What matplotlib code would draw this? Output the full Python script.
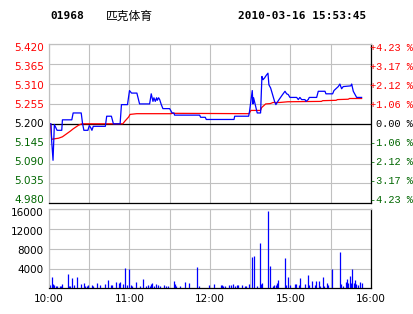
import matplotlib
matplotlib.use("Agg")
import numpy as np
import matplotlib.pyplot as plt
import matplotlib.transforms as mtrans

# header
code = "01968"
name = "匹克体育"
stamp = "2010-03-16 15:53:45"

prev_close = 5.200
price_ticks = [5.420, 5.365, 5.310, 5.255, 5.200, 5.145, 5.090, 5.035, 4.980]
pct_labels = ["+4.23 %", "+3.17 %", "+2.12 %", "+1.06 %", "0.00 %",
              "-1.06 %", "-2.12 %", "-3.17 %", "-4.23 %"]
vol_ticks = [16000, 12000, 8000, 4000]
time_pos = [0, 60, 120, 180, 240]
time_labels = ["10:00", "11:00", "12:00", "15:00", "16:00"]

# minute index (0 = 10:00, 240 = 16:00), price
blue_min = [0, 1.5, 2, 3, 4, 5, 6, 9.5, 10, 17, 18, 24, 25, 26, 29, 30, 31, 32, 33, 42,
            43, 46.5, 48, 53, 54, 58.5, 60, 61.5, 65.5, 67.5, 75, 76.2, 77.5, 78.2, 79.2,
            80.2, 80.7, 81.7, 82.5, 83.7, 84.9, 89.9, 90.7, 91.7, 93.1, 93.6, 112.3, 113,
            116.5, 117.2, 137.9, 138.4, 148.8, 149.5, 150.3, 151.5, 152, 152.5, 155.2,
            157.7, 158.7, 159.5, 160.7, 161.9, 163.2, 163.9, 165.2, 168.2, 169.1, 170.9,
            174.1, 175.9, 177.1, 178.3, 179.6, 184.6, 185.8, 187, 188.3, 190.8, 191.5,
            193.2, 194, 199.5, 200.7, 205.7, 206.4, 211.4, 212.4, 215.6, 216.8, 218.1,
            219.3, 225, 225.6, 226.8, 229.3, 233]
blue_px = [5.200, 5.200, 5.152, 5.099, 5.198, 5.190, 5.182, 5.182, 5.211, 5.211, 5.230,
           5.230, 5.201, 5.182, 5.182, 5.195, 5.190, 5.182, 5.193, 5.193, 5.221, 5.221,
           5.200, 5.200, 5.253, 5.253, 5.292, 5.285, 5.285, 5.255, 5.255, 5.283, 5.262,
           5.272, 5.262, 5.272, 5.265, 5.272, 5.267, 5.253, 5.242, 5.242, 5.237, 5.230,
           5.230, 5.224, 5.224, 5.218, 5.218, 5.212, 5.212, 5.221, 5.221, 5.235, 5.258,
           5.292, 5.255, 5.272, 5.230, 5.230, 5.331, 5.322, 5.327, 5.334, 5.340, 5.308,
           5.299, 5.261, 5.253, 5.264, 5.281, 5.290, 5.283, 5.281, 5.273, 5.273, 5.267,
           5.273, 5.267, 5.267, 5.262, 5.267, 5.273, 5.273, 5.290, 5.290, 5.283, 5.283,
           5.292, 5.303, 5.310, 5.297, 5.303, 5.305, 5.310, 5.290, 5.273, 5.273]

red_min = [0, 1, 2, 5, 7, 10, 13, 16, 18, 20, 22, 24.5, 55, 56.5, 59.4, 60.4, 65.4, 91,
           92, 149, 150.5, 157.7, 158.5, 161.5, 165, 167, 172, 178, 203, 204, 214, 215,
           223, 224, 233]
red_px = [5.200, 5.200, 5.157, 5.159, 5.160, 5.164, 5.172, 5.180, 5.186, 5.191, 5.196,
          5.200, 5.200, 5.207, 5.219, 5.226, 5.228, 5.228, 5.229, 5.228, 5.237, 5.237,
          5.245, 5.255, 5.256, 5.259, 5.259, 5.261, 5.262, 5.264, 5.265, 5.267, 5.268,
          5.270, 5.270]

vol_min = [0, 1, 2, 3, 4, 5, 6, 8, 9, 10, 14, 15, 16, 17, 19, 21, 24, 26, 27, 28, 29, 32,
           33, 36, 38, 42, 44, 46, 47, 50, 52, 53, 55, 57, 58, 60, 61, 62, 65, 68, 70, 72,
           74, 75, 76, 77, 78, 80, 81, 83, 86, 87, 89, 93, 94, 95, 98, 101, 104, 110, 112,
           119, 123, 128, 129, 130, 131, 134, 136, 137, 139, 140, 141, 144, 146, 147, 149,
           151, 153, 155, 157, 158, 159, 163, 165, 167, 168, 169, 170, 171, 176, 177, 178,
           180, 183, 184, 186, 187, 191, 193, 194, 196, 198, 199, 201, 202, 204, 205, 207,
           208, 211, 217, 218, 219, 221, 222, 223, 224, 225, 226, 227, 228, 229, 230, 232,
           233]
vol = [880, 675, 2230, 880, 675, 470, 470, 470, 470, 880, 2900, 470, 470, 2090, 675, 2230,
       880, 1010, 470, 470, 675, 675, 470, 1150, 675, 880, 1690, 675, 600, 1280, 1010, 1280,
       880, 4050, 675, 3850, 675, 470, 1300, 470, 1890, 470, 675, 470, 880, 1010, 470, 880,
       675, 470, 675, 470, 470, 1550, 880, 470, 470, 1350, 1150, 4390, 470, 675, 880, 675,
       675, 470, 470, 675, 675, 880, 470, 675, 675, 675, 470, 470, 880, 6410, 6550, 470,
       9250, 880, 1010, 15730, 4520, 470, 675, 675, 1150, 1690, 6210, 675, 2360, 675, 880,
       880, 675, 2090, 880, 2700, 675, 1550, 675, 1490, 1490, 470, 2360, 470, 1150, 675,
       3920, 7360, 880, 470, 1350, 1820, 1010, 2500, 1150, 3920, 1010, 1690, 880, 675,
       1350, 1010]

grid_c = "#c0c0c0"
red = "#ff0000"
green = "#006600"
blue = "#0000ff"

fig = plt.figure(figsize=(4.14, 3.14), dpi=100)
ax = fig.add_axes([49 / 414, (314 - 203.3) / 314, 322 / 414, 159 / 314])
axv = fig.add_axes([49 / 414, (314 - 288.3) / 314, 322 / 414, 79 / 314])

# price panel
ax.set_xlim(0, 240)
ax.set_ylim(price_ticks[-1], price_ticks[0])
ax.set_xticks(np.arange(0, 241, 30))
ax.set_yticks(price_ticks)
ax.grid(True, color=grid_c, lw=0.8)
ax.tick_params(length=0, labelleft=False, labelbottom=False)
ax.axhline(prev_close, color="black", lw=0.9)
for s in ["left", "top"]:
    ax.spines[s].set_color(grid_c)
for s in ["right", "bottom"]:
    ax.spines[s].set_color("black")
for s in ax.spines.values():
    s.set_linewidth(0.9)
ax.plot(red_min, red_px, color=red, lw=0.9)
ax.plot(blue_min, blue_px, color=blue, lw=0.9)

lab = mtrans.blended_transform_factory(ax.transAxes, ax.transData)
for v, p in zip(price_ticks, pct_labels):
    c = red if v > prev_close else (green if v < prev_close else "black")
    yl = prev_close + (v - prev_close) * 0.955
    ax.text(-0.016, yl, "%.3f" % v, transform=lab, ha="right", va="center",
            color=c, fontsize=7.5, family="DejaVu Sans")
    ax.text((413 - 49) / 322, yl, p, transform=lab, ha="right", va="center",
            color=c, fontsize=7.4, family="Liberation Mono")

# volume panel
axv.set_xlim(0, 240)
axv.set_ylim(0, 16000)
axv.set_xticks(np.arange(0, 241, 30))
axv.set_yticks(vol_ticks)
axv.grid(True, color=grid_c, lw=0.8)
axv.tick_params(length=0, labelleft=False, labelbottom=False)
for s in ["left", "top"]:
    axv.spines[s].set_color(grid_c)
for s in ["right", "bottom"]:
    axv.spines[s].set_color("black")
for s in axv.spines.values():
    s.set_linewidth(0.9)
axv.vlines(vol_min, 0, vol, color=blue, lw=0.9)

vlab = mtrans.blended_transform_factory(axv.transAxes, axv.transData)
for v in vol_ticks:
    axv.text(-0.016, v * 0.95, str(v), transform=vlab, ha="right", va="center",
             color="black", fontsize=7.5, family="DejaVu Sans")
tlab = mtrans.blended_transform_factory(axv.transData, axv.transAxes)
for t, s in zip(time_pos, time_labels):
    axv.text(t, -0.13, s, transform=tlab, ha="center", va="center",
             color="black", fontsize=7.5, family="DejaVu Sans")

# header texts
fig.text(50 / 414, 1 - 16.3 / 314, code, ha="left", va="center", fontsize=8,
         family="DejaVu Sans Mono", weight="bold")
fig.text(106 / 414, 1 - 16 / 314, name, ha="left", va="center", fontsize=8.5,
         family=["Noto Sans CJK SC", "DejaVu Sans"])
fig.text(238 / 414, 1 - 16.3 / 314, stamp, ha="left", va="center", fontsize=8,
         family="DejaVu Sans Mono", weight="bold")

fig.savefig("out.png", dpi=100)
